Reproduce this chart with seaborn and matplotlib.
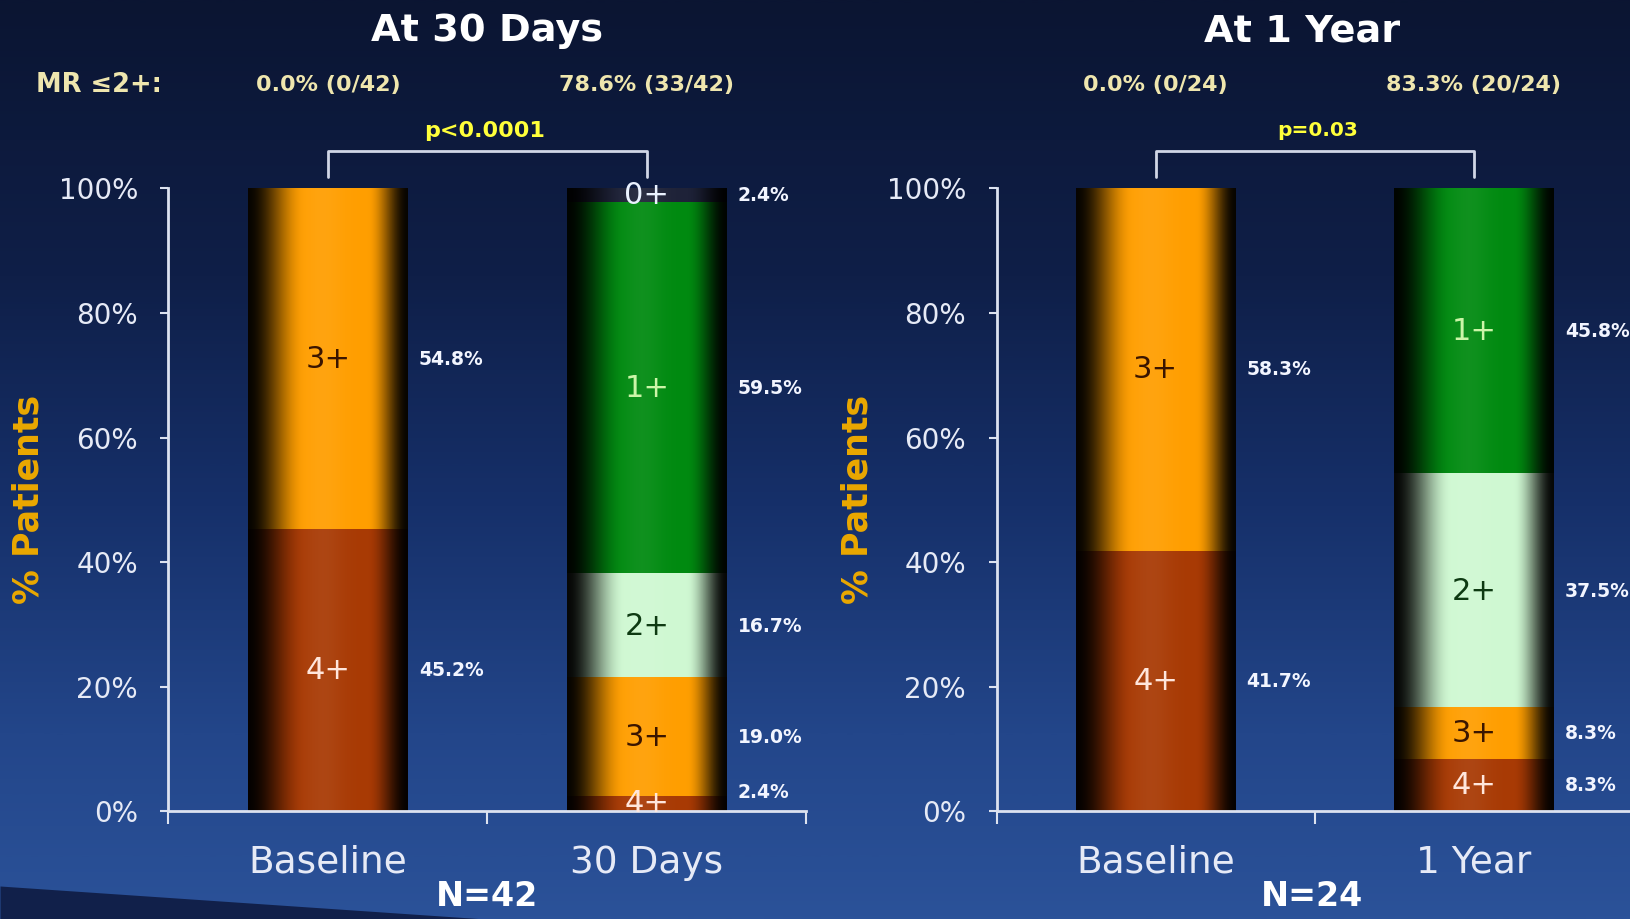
import numpy as np
import pandas as pd
import matplotlib
matplotlib.use("Agg")
import matplotlib.pyplot as plt
import matplotlib.transforms as mtransforms
from matplotlib.lines import Line2D
from matplotlib.colors import to_rgb, LinearSegmentedColormap
import seaborn as sns

# MR grades, stacked from the bottom of each bar upwards
grades = ["4+", "3+", "2+", "1+", "0+"]

# Panel 1: baseline vs 30-day follow-up (N=42), % of patients per grade
groups_30d = ["Baseline", "30 Days"]
baseline_30d = [45.2, 54.8, 0.0, 0.0, 0.0]
followup_30d = [2.4, 19.0, 16.7, 59.5, 2.4]

# Panel 2: baseline vs 1-year follow-up (N=24)
groups_1y = ["Baseline", "1 Year"]
baseline_1y = [41.7, 58.3, 0.0, 0.0, 0.0]
followup_1y = [8.3, 8.3, 37.5, 45.8, 0.0]

titles = ["At 30 Days", "At 1 Year"]
mr_le2_30d = ["0.0% (0/42)", "78.6% (33/42)"]
mr_le2_1y = ["0.0% (0/24)", "83.3% (20/24)"]
p_values = ["p<0.0001", "p=0.03"]
n_labels = ["N=42", "N=24"]
y_ticks = [0, 20, 40, 60, 80, 100]
y_tick_labels = ["0%", "20%", "40%", "60%", "80%", "100%"]

grade_colors = {"4+": "#A83A04", "3+": "#FF9E00", "2+": "#CFF8D2",
                "1+": "#008A10", "0+": "#1E2238"}
grade_text = {"4+": "#FFE6DC", "3+": "#3A1500", "2+": "#0E3A12",
              "1+": "#CCF5A8", "0+": "#EAF2FF"}

AXIS_COLOR = "#DCE2F0"
TICK_COLOR = "#E6EAF6"
GOLD = "#EBA800"
CREAM = "#EFE6AE"
YELLOW = "#FFFF3A"

sns.set_theme(style="ticks")
plt.rcParams["font.family"] = ["DejaVu Sans"]


def build_frame(groups, series):
    rows = []
    for g, vals in zip(groups, series):
        vals = np.asarray(vals, dtype=float)
        tops = np.cumsum(vals)
        bottoms = tops - vals
        for grade, v, b, t in zip(grades, vals, bottoms, tops):
            rows.append(dict(group=g, grade=grade, pct=v, bottom=b, top=t))
    return pd.DataFrame(rows)


def cylinder(color, n=256):
    """Horizontal shading that makes a flat bar look like a lit cylinder."""
    t = np.linspace(0, 1, n)
    left = np.clip(t / 0.36, 0, 1)
    left = left * left * (3 - 2 * left)
    right = np.clip((1 - t) / 0.25, 0, 1)
    right = right * right * (3 - 2 * right)
    shade = 0.03 + 0.97 * left * right
    glow = 0.06 * np.exp(-((t - 0.47) / 0.13) ** 2)
    rgb = np.array(to_rgb(color))
    img = shade[:, None] * rgb[None, :]
    img = img + glow[:, None] * (1 - img)
    return np.clip(img, 0, 1)[None, :, :]


fig = plt.figure(figsize=(16.31, 9.19), dpi=100)
fig.patch.set_facecolor("#0B1532")

# Background: dark navy fading into blue towards the bottom
bg = fig.add_axes([0, 0, 1, 1], zorder=-10)
bg_cmap = LinearSegmentedColormap.from_list(
    "bg", [(0.0, "#0B1532"), (0.3, "#0F1F48"), (0.55, "#16306A"),
           (0.8, "#23468A"), (1.0, "#2B5299")])
grad = np.linspace(0, 1, 512)[:, None]
bg.imshow(grad, cmap=bg_cmap, extent=(0, 1, 0, 1), origin="upper",
          aspect="auto", interpolation="bilinear")
sx = np.linspace(0, 0.30, 60)
bg.fill_between(sx, 0, 1 - (886 + 0.068 * sx * 1631) / 919, color="#11204A", lw=0)
bg.set_xlim(0, 1)
bg.set_ylim(0, 1)
bg.axis("off")

panels = [
    dict(rect=[0.1033, 0.1171, 0.3910, 0.678], groups=groups_30d,
         series=[baseline_30d, followup_30d], title=titles[0], title_x=0.5,
         mr=mr_le2_30d, p=p_values[0], p_size=16, p_x=0.49, n=n_labels[0],
         n_x=0.5, show_mr_label=True),
    dict(rect=[0.611, 0.1171, 0.3903, 0.678], groups=groups_1y,
         series=[baseline_1y, followup_1y], title=titles[1], title_x=0.46,
         mr=mr_le2_1y, p=p_values[1], p_size=14.5, p_x=0.51, n=n_labels[1],
         n_x=0.49, show_mr_label=False),
]

for P in panels:
    ax = fig.add_axes(P["rect"])
    ax.set_facecolor("none")
    df = build_frame(P["groups"], P["series"])

    # Cumulative bars drawn from the top grade down, each covering the one before
    for k, grade in enumerate(reversed(grades)):
        sub = df[df["grade"] == grade]
        sns.barplot(data=sub, x="group", y="top", order=P["groups"], width=0.5,
                    color=grade_colors[grade], saturation=1, errorbar=None, ax=ax)
        for patch in ax.containers[-1].patches:
            x0, w, h = patch.get_x(), patch.get_width(), patch.get_height()
            ax.imshow(cylinder(grade_colors[grade]), extent=(x0, x0 + w, 0, h),
                      origin="lower", aspect="auto", interpolation="bilinear",
                      zorder=2 + k)
            patch.set_visible(False)

    # Grade names inside the segments, percentages to the right
    for i, g in enumerate(P["groups"]):
        sub = df[(df["group"] == g) & (df["pct"] > 0)]
        for _, r in sub.iterrows():
            mid = (r["bottom"] + r["top"]) / 2
            ax.text(i, mid, r["grade"], ha="center", va="center", fontsize=22,
                    color=grade_text[r["grade"]], zorder=20)
            ax.text(i + 0.285, max(mid, 3.0), f"{r['pct']:.1f}%", ha="left",
                    va="center", fontsize=13.5, fontweight="bold",
                    color="#F2F5FF", zorder=20)

    ax.set_xlim(-0.5, 1.5)
    ax.set_ylim(0, 100)
    for s in ["top", "right"]:
        ax.spines[s].set_visible(False)
    for s in ["left", "bottom"]:
        ax.spines[s].set_color(AXIS_COLOR)
        ax.spines[s].set_linewidth(2)
        ax.spines[s].set_zorder(15)

    ax.set_yticks(y_ticks)
    ax.set_yticklabels(y_tick_labels)
    ax.tick_params(axis="y", left=True, length=6, width=1.5, color=AXIS_COLOR,
                   labelcolor=TICK_COLOR, labelsize=20, pad=16, direction="out")
    ax.set_xticks([0, 1])
    ax.set_xticklabels(P["groups"])
    ax.tick_params(axis="x", which="major", bottom=True, length=0, pad=24,
                   labelsize=27, labelcolor=TICK_COLOR)
    ax.set_xticks([-0.5, 0.5, 1.5], minor=True)
    ax.tick_params(axis="x", which="minor", bottom=True, length=9, width=1.5,
                   color=AXIS_COLOR, direction="out")

    ax.set_xlabel("")
    ax.set_ylabel("% Patients", fontsize=25, fontweight="bold", color=GOLD,
                  va="center")
    ax.yaxis.set_label_coords(-0.219, 0.5)

    tr = mtransforms.blended_transform_factory(ax.transData, fig.transFigure)
    ax.text(P["title_x"], 0.966, P["title"], transform=tr, ha="center",
            va="center", fontsize=27.5, fontweight="bold", color="white")
    for i, txt in enumerate(P["mr"]):
        ax.text(i, 0.9075, txt, transform=tr, ha="center", va="center",
                fontsize=16, fontweight="bold", color=CREAM)
    if P["show_mr_label"]:
        fig.text(0.0223, 0.9075, "MR ≤2+:", ha="left", va="center",
                 fontsize=18.5, fontweight="bold", color=CREAM)
    ax.text(P["p_x"], 0.8575, P["p"], transform=tr, ha="center", va="center",
            fontsize=P["p_size"], fontweight="bold", color=YELLOW)
    bracket = Line2D([0, 0, 1, 1], [0.8074, 0.8357, 0.8357, 0.8074],
                     transform=tr, color="#D0D6E6", lw=2, clip_on=False)
    ax.add_artist(bracket)
    ax.text(P["n_x"], 0.024, P["n"], transform=tr, ha="center", va="center",
            fontsize=24, fontweight="bold", color="white")

fig.savefig("out.png", dpi=100, facecolor=fig.get_facecolor())
